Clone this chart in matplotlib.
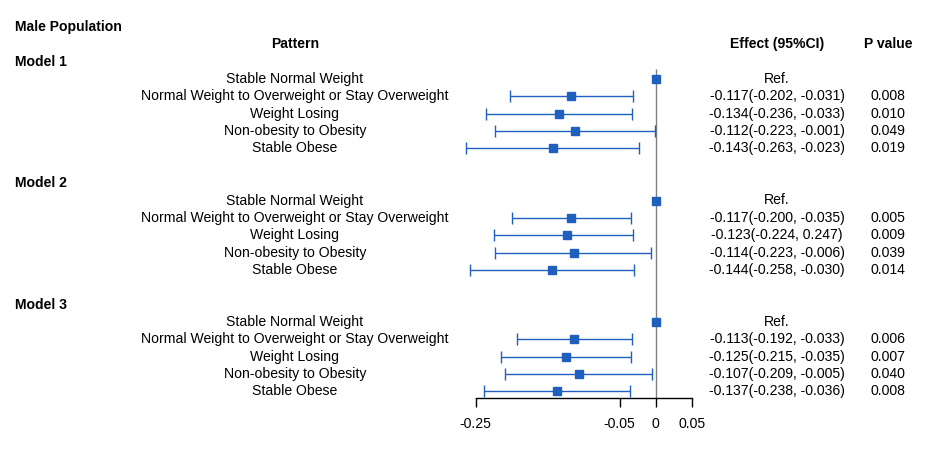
import numpy as np
import matplotlib.pyplot as plt

plt.rcParams['font.family'] = ['Liberation Sans', 'DejaVu Sans']

patterns = ['Stable Normal Weight',
            'Normal Weight to Overweight or Stay Overweight',
            'Weight Losing',
            'Non-obesity to Obesity',
            'Stable Obese']
models = ['Model 1', 'Model 2', 'Model 3']

# effect estimates and CI (reference group = 0)
est = [[0, -0.117, -0.134, -0.112, -0.143],
       [0, -0.117, -0.123, -0.114, -0.144],
       [0, -0.113, -0.125, -0.107, -0.137]]
lo = [[0, -0.202, -0.236, -0.223, -0.263],
      [0, -0.200, -0.224, -0.223, -0.258],
      [0, -0.192, -0.215, -0.209, -0.238]]
# upper bounds as drawn (model 2 weight losing printed as 0.247 in the table)
hi = [[0, -0.031, -0.033, -0.001, -0.023],
      [0, -0.035, -0.031, -0.006, -0.030],
      [0, -0.033, -0.035, -0.005, -0.036]]

eff_txt = [['Ref.', '-0.117(-0.202, -0.031)', '-0.134(-0.236, -0.033)',
            '-0.112(-0.223, -0.001)', '-0.143(-0.263, -0.023)'],
           ['Ref.', '-0.117(-0.200, -0.035)', '-0.123(-0.224, 0.247)',
            '-0.114(-0.223, -0.006)', '-0.144(-0.258, -0.030)'],
           ['Ref.', '-0.113(-0.192, -0.033)', '-0.125(-0.215, -0.035)',
            '-0.107(-0.209, -0.005)', '-0.137(-0.238, -0.036)']]
p_txt = [['', '0.008', '0.010', '0.049', '0.019'],
         ['', '0.005', '0.009', '0.039', '0.014'],
         ['', '0.006', '0.007', '0.040', '0.008']]

xticks = [-0.25, -0.05, 0, 0.05]

blue = '#1f5fbd'
fs = 10.1

fig = plt.figure(figsize=(9.3, 4.5), dpi=100)
ax = fig.add_axes([0, 0, 1, 1])

# x: effect units, 0 at 655.7 px, 720 px per unit; y: row index, 17.35 px per row
px0, ppu = 655.7, 720.0
ax.set_xlim(-px0 / ppu, (930 - px0) / ppu)
row0, rowh = 27.0, 17.35
ax.set_ylim((450 - row0) / rowh, -row0 / rowh)

def xpx(p):
    return (p - px0) / ppu

ax.text(xpx(15), 0, 'Male Population', fontsize=fs, fontweight='bold', va='center', ha='left')
ax.text(xpx(295), 1, 'Pattern', fontsize=fs, fontweight='bold', va='center', ha='center')
ax.text(xpx(777), 1, 'Effect (95%CI)', fontsize=fs, fontweight='bold', va='center', ha='center')
ax.text(xpx(888), 1, 'P value', fontsize=fs, fontweight='bold', va='center', ha='center')

for m, name in enumerate(models):
    hrow = 2 + m * 7
    ax.text(xpx(15), hrow, name, fontsize=fs, fontweight='bold', va='center', ha='left')
    rows = hrow + 1 + np.arange(len(patterns))
    e = np.array(est[m])
    l = np.array(lo[m])
    h = np.array(hi[m])
    for i, r in enumerate(rows):
        ax.text(xpx(295), r, patterns[i], fontsize=fs, va='center', ha='center')
        ax.text(xpx(777), r, eff_txt[m][i], fontsize=fs, va='center', ha='center')
        ax.text(xpx(888), r, p_txt[m][i], fontsize=fs, va='center', ha='center')
    ax.errorbar(e[1:], rows[1:], xerr=[e[1:] - l[1:], h[1:] - e[1:]],
                fmt='none', ecolor=blue, elinewidth=1, capsize=4, capthick=1, zorder=3)
    ax.plot(e, rows, 's', color=blue, markersize=6, zorder=4)

axis_row = (398 - row0) / rowh
ax.vlines(0, 2.4, axis_row, color='grey', linewidth=1, zorder=2)

for s in ['top', 'right', 'left']:
    ax.spines[s].set_visible(False)
ax.spines['bottom'].set_position(('data', axis_row))
ax.spines['bottom'].set_bounds(xticks[0], xticks[-1])
ax.spines['bottom'].set_linewidth(1)
ax.set_xticks(xticks)
ax.set_xticklabels(['-0.25', '-0.05', '0', '0.05'])
ax.tick_params(axis='x', direction='out', length=6.5, width=1, pad=7, labelsize=fs)
ax.set_yticks([])
ax.patch.set_visible(False)

plt.savefig('out.png', dpi=100)
